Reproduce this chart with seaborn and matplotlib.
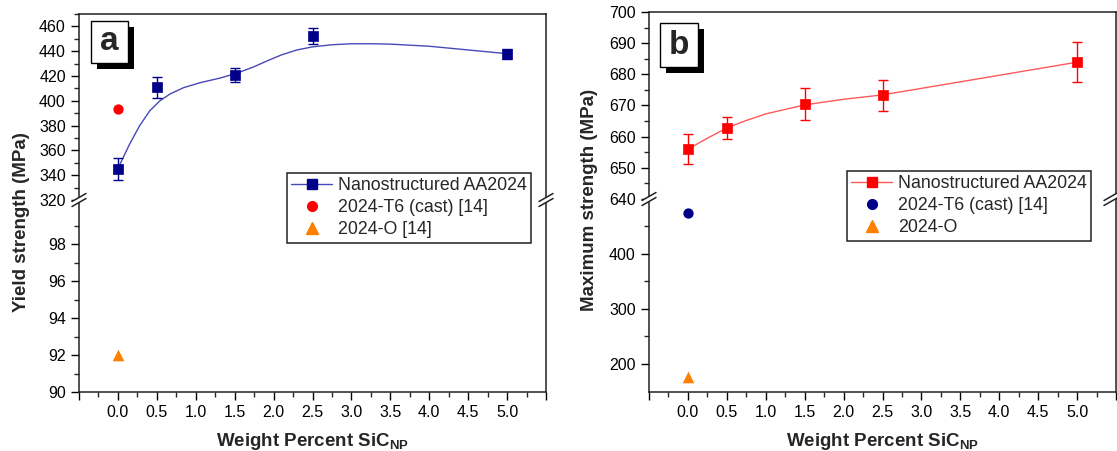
import numpy as np
import pandas as pd
import matplotlib
matplotlib.use('Agg')
import matplotlib.pyplot as plt
import seaborn as sns
from matplotlib.lines import Line2D
from matplotlib.patches import Rectangle, Polygon

# ---- data ----
sic_wt = [0.0, 0.5, 1.5, 2.5, 5.0]

# panel a: yield strength (MPa)
ys_nano = [345, 411, 421, 452, 438]
ys_nano_err = [9, 8.5, 5.5, 6.5, 4]
ys_fit_x = [0.0, 0.05, 0.15, 0.28, 0.41, 0.54, 0.67, 0.84, 1.05, 1.31, 1.53,
            1.75, 1.91, 2.1, 2.3, 2.5, 2.75, 3.0, 3.25, 3.5, 4.0, 4.5, 5.0]
ys_fit_y = [345, 352, 365, 380, 392, 400, 405.5, 410.5, 414.5, 418.3, 422.3,
            427.5, 432, 437, 441, 443.5, 445.2, 446, 446, 445.7, 444, 441, 438]
ys_t6 = 393
ys_o = 92

# panel b: maximum strength (MPa)
uts_nano = [656, 662.7, 670.5, 673.3, 683.9]
uts_nano_err = [4.8, 3.5, 5.2, 5.0, 6.4]
uts_fit_x = [0.0, 0.25, 0.5, 0.75, 1.0, 1.5, 2.0, 2.5, 3.0, 3.5, 4.0, 4.5, 5.0]
uts_fit_y = [656, 659.5, 662.8, 665.2, 667.3, 670.2, 672, 673.4, 675.5,
             677.6, 679.7, 681.8, 683.9]
uts_t6 = 475
uts_o = 176

labels_a = ['Nanostructured AA2024', '2024-T6 (cast) [14]', '2024-O [14]']
labels_b = ['Nanostructured AA2024', '2024-T6 (cast) [14]', '2024-O']
xtick_vals = np.arange(-0.5, 5.51, 0.5)
xtick_labels = [''] + [f'{v:.1f}' for v in np.arange(0, 5.01, 0.5)] + ['']

NAVY = '#000088'
RED = '#ff0000'
ORANGE = '#ff7f00'

sns.set_style('ticks')
plt.rcParams['font.family'] = ['Liberation Sans', 'DejaVu Sans']
plt.rcParams['mathtext.fontset'] = 'custom'
plt.rcParams['mathtext.rm'] = 'Liberation Sans'
plt.rcParams['mathtext.bf'] = 'Liberation Sans:bold'

W, H = 1117, 451
fig = plt.figure(figsize=(W / 100, H / 100), dpi=100)


def px_box(l, t, r, b):
    return [l / W, 1 - b / H, (r - l) / W, (b - t) / H]


def fp(x, y):
    return (x / W, 1 - y / H)


a_top = fig.add_axes(px_box(79, 14, 546, 200))
a_bot = fig.add_axes(px_box(79, 200, 546, 392))
b_top = fig.add_axes(px_box(649, 12, 1116, 199))
b_bot = fig.add_axes(px_box(649, 199, 1116, 392))


def style_pair(top, bot):
    for ax in (top, bot):
        ax.set_xlim(-0.5, 5.5)
        ax.set_facecolor('none')
        ax.tick_params(which='major', direction='out', length=6, width=1,
                       labelsize=11.5, colors='black')
        ax.tick_params(which='minor', direction='out', length=3.5, width=1)
        for s in ax.spines.values():
            s.set_linewidth(1.1)
            s.set_color('#222222')
        ax.set_xlabel('')
        ax.set_ylabel('')
    top.spines['bottom'].set_visible(False)
    bot.spines['top'].set_visible(False)
    top.tick_params(axis='x', which='both', bottom=False, labelbottom=False)
    bot.set_xticks(xtick_vals)
    bot.set_xticklabels(xtick_labels)
    bot.set_xticks(np.arange(-0.25, 5.5, 0.5), minor=True)
    bot.set_xlabel(r'Weight Percent SiC$_\mathbf{NP}$', fontsize=13.5,
                   fontweight='bold', labelpad=8)


def draw_series(top, bot, fx, fy, y, yerr, t6, o, col, lcol, t6col):
    sns.lineplot(x=fx, y=fy, ax=top, color=lcol, lw=1, legend=False,
                 sort=False)
    top.errorbar(sic_wt, y, yerr=yerr, fmt='none', ecolor=col,
                 elinewidth=1, capsize=3.5, capthick=1, zorder=3)
    sns.scatterplot(x=sic_wt, y=y, ax=top, marker='s', s=55, color=col,
                    edgecolor=col, linewidth=0.5, zorder=4, legend=False)
    for ax in (top, bot):
        sns.scatterplot(x=[0.0], y=[t6], ax=ax, marker='o', s=55,
                        color=t6col, edgecolor=t6col, linewidth=0,
                        zorder=4, legend=False)
        sns.scatterplot(x=[0.0], y=[o], ax=ax, marker='^', s=70,
                        color=ORANGE, edgecolor=ORANGE, linewidth=0,
                        zorder=4, legend=False)


# panel a
draw_series(a_top, a_bot, ys_fit_x, ys_fit_y, ys_nano, ys_nano_err,
            ys_t6, ys_o, NAVY, '#4848b8', RED)
style_pair(a_top, a_bot)
a_top.set_ylim(320, 470)
a_top.set_yticks(np.arange(320, 461, 20))
a_top.set_yticks(np.arange(330, 471, 20), minor=True)
a_bot.set_ylim(90, 100.4)
a_bot.set_yticks(np.arange(90, 99, 2))
a_bot.set_yticks(np.arange(91, 100, 2), minor=True)

# panel b
draw_series(b_top, b_bot, uts_fit_x, uts_fit_y, uts_nano, uts_nano_err,
            uts_t6, uts_o, RED, '#ff5a5a', NAVY)
style_pair(b_top, b_bot)
b_top.set_ylim(640, 700)
b_top.set_yticks(np.arange(640, 701, 10))
b_top.set_yticks(np.arange(645, 700, 10), minor=True)
b_bot.set_ylim(149, 500)
b_bot.set_yticks([200, 300, 400])
b_bot.set_yticks([250, 350, 450], minor=True)

# y labels spanning both halves
fig.text(22 / W, 1 - 222 / H, 'Yield strength (MPa)', rotation=90,
         ha='center', va='center', fontsize=13.5, fontweight='bold')
fig.text(589 / W, 1 - 200 / H, 'Maximum strength (MPa)', rotation=90,
         ha='center', va='center', fontsize=13.5, fontweight='bold')


# axis break marks
def brk(xp, yp):
    dx, dy, g = 7, 4, 2.5
    pts = [fp(xp - dx, yp - g + dy), fp(xp + dx, yp - g - dy),
           fp(xp + dx, yp + g - dy), fp(xp - dx, yp + g + dy)]
    fig.add_artist(Polygon(pts, closed=True, facecolor='white',
                           edgecolor='none', transform=fig.transFigure,
                           zorder=5))
    for off in (-g, g):
        p0 = fp(xp - dx, yp + off + dy)
        p1 = fp(xp + dx, yp + off - dy)
        fig.add_artist(Line2D([p0[0], p1[0]], [p0[1], p1[1]], color='#222222',
                              lw=1.1, transform=fig.transFigure, zorder=6))


brk(79, 200)
brk(546, 200)
brk(649, 199)
brk(1111, 199)


# panel letters with drop shadow
def letter(l, t, r, b, txt, off=6):
    fig.add_artist(Rectangle(fp(l + off, b + off), (r - l) / W, (b - t) / H,
                             facecolor='black', edgecolor='none',
                             transform=fig.transFigure, zorder=5))
    fig.add_artist(Rectangle(fp(l, b), (r - l) / W, (b - t) / H,
                             facecolor='white', edgecolor='black', lw=1,
                             transform=fig.transFigure, zorder=6))
    cx, cy = fp((l + r) / 2, (t + b) / 2)
    fig.text(cx, cy, txt, ha='center', va='center', fontsize=24,
             fontweight='bold', zorder=7)


letter(91, 21, 128, 63, 'a')
letter(660, 23, 698, 67, 'b')


# legends
def handles(col, lcol, t6col):
    return [Line2D([], [], color=lcol, lw=1, marker='s', markersize=7,
                   markerfacecolor=col, markeredgecolor=col),
            Line2D([], [], ls='none', marker='o', markersize=7,
                   color=t6col),
            Line2D([], [], ls='none', marker='^', markersize=8,
                   color=ORANGE)]


for hs, labs, anchor in [(handles(NAVY, '#4848b8', RED), labels_a, fp(287, 173)),
                         (handles(RED, '#ff5a5a', NAVY), labels_b, fp(847, 171))]:
    leg = fig.legend(hs, labs, loc='upper left', bbox_to_anchor=anchor,
                     bbox_transform=fig.transFigure, fontsize=12.8,
                     frameon=True, fancybox=False, framealpha=1,
                     edgecolor='#222222', handlelength=2.3,
                     handletextpad=0.3, labelspacing=0.28, borderpad=0.25,
                     borderaxespad=0)
    leg.get_frame().set_linewidth(1.1)

fig.savefig('out.png', dpi=100)
plt.close(fig)
